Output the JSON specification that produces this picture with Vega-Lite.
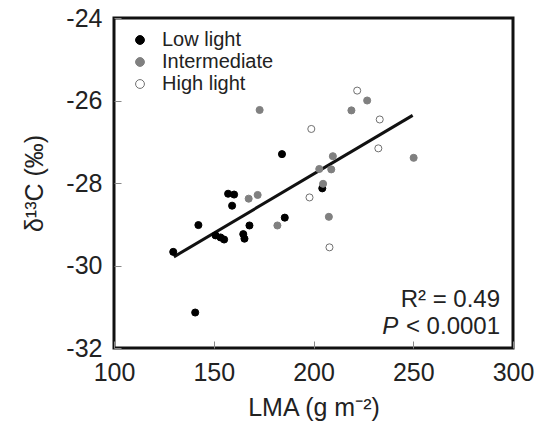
{
  "$schema": "https://vega.github.io/schema/vega-lite/v6.json",
  "width": 399,
  "height": 330,
  "autosize": {"type": "none"},
  "padding": {"left": 114, "top": 18, "right": 33, "bottom": 91},
  "background": "white",
  "config": {
    "view": {"stroke": "#111111", "strokeWidth": 3},
    "font": "Liberation Sans",
    "axis": {
      "domain": false,
      "grid": false,
      "tickSize": -7,
      "tickColor": "#888888",
      "tickWidth": 1,
      "labelFontSize": 25,
      "labelColor": "#222222",
      "labelPadding": 19,
      "labelFlush": false,
      "titleFontSize": 25,
      "titleFontWeight": "normal",
      "titleColor": "#222222"
    },
    "legend": {
      "orient": "none",
      "legendX": 16,
      "legendY": 12,
      "padding": 0,
      "labelFontSize": 20,
      "labelColor": "#222222",
      "symbolSize": 78,
      "symbolStrokeWidth": 1,
      "labelOffset": 12,
      "rowPadding": 2
    }
  },
  "layer": [
    {
      "data": {"values": [
        {"lma": 130, "d13C": -29.79},
        {"lma": 249.7, "d13C": -26.36}
      ]},
      "mark": {"type": "line", "color": "#111111", "strokeWidth": 3},
      "encoding": {
        "x": {"field": "lma", "type": "quantitative", "title": "LMA (g m⁻²)"},
        "y": {"field": "d13C", "type": "quantitative", "title": "δ¹³C (‰)"}
      }
    },
    {
      "data": {"values": [
        {"light": "Low light", "lma": 184.2, "d13C": -27.30},
        {"light": "Low light", "lma": 157.2, "d13C": -28.26},
        {"light": "Low light", "lma": 160.2, "d13C": -28.28},
        {"light": "Low light", "lma": 159.2, "d13C": -28.55},
        {"light": "Low light", "lma": 142.3, "d13C": -29.02},
        {"light": "Low light", "lma": 129.7, "d13C": -29.67},
        {"light": "Low light", "lma": 150.9, "d13C": -29.27},
        {"light": "Low light", "lma": 153.4, "d13C": -29.32},
        {"light": "Low light", "lma": 155.2, "d13C": -29.37},
        {"light": "Low light", "lma": 167.9, "d13C": -29.03},
        {"light": "Low light", "lma": 164.8, "d13C": -29.24},
        {"light": "Low light", "lma": 165.4, "d13C": -29.35},
        {"light": "Low light", "lma": 185.6, "d13C": -28.84},
        {"light": "Low light", "lma": 140.7, "d13C": -31.14},
        {"light": "Low light", "lma": 204.4, "d13C": -28.13},
        {"light": "Intermediate", "lma": 173.0, "d13C": -26.23},
        {"light": "Intermediate", "lma": 167.5, "d13C": -28.38},
        {"light": "Intermediate", "lma": 172.0, "d13C": -28.29},
        {"light": "Intermediate", "lma": 181.9, "d13C": -29.03},
        {"light": "Intermediate", "lma": 202.9, "d13C": -27.66},
        {"light": "Intermediate", "lma": 208.9, "d13C": -27.67},
        {"light": "Intermediate", "lma": 209.7, "d13C": -27.35},
        {"light": "Intermediate", "lma": 204.8, "d13C": -28.02},
        {"light": "Intermediate", "lma": 207.7, "d13C": -28.82},
        {"light": "Intermediate", "lma": 219.0, "d13C": -26.24},
        {"light": "Intermediate", "lma": 226.9, "d13C": -26.00},
        {"light": "Intermediate", "lma": 250.2, "d13C": -27.39},
        {"light": "High light", "lma": 198.9, "d13C": -26.69},
        {"light": "High light", "lma": 198.0, "d13C": -28.35},
        {"light": "High light", "lma": 208.0, "d13C": -29.56},
        {"light": "High light", "lma": 221.9, "d13C": -25.76},
        {"light": "High light", "lma": 233.2, "d13C": -26.46},
        {"light": "High light", "lma": 232.5, "d13C": -27.16}
      ]},
      "mark": {"type": "circle", "size": 50, "opacity": 1, "strokeWidth": 1},
      "encoding": {
        "x": {
          "field": "lma", "type": "quantitative",
          "scale": {"domain": [100, 300], "nice": false, "zero": false},
          "axis": {"values": [100, 150, 200, 250, 300], "titlePadding": 10},
          "title": "LMA (g m⁻²)"
        },
        "y": {
          "field": "d13C", "type": "quantitative",
          "scale": {"domain": [-32, -24], "nice": false, "zero": false},
          "axis": {"values": [-32, -30, -28, -26, -24], "labelExpr": "toString(datum.value)", "titlePadding": 18},
          "title": "δ¹³C (‰)"
        },
        "fill": {
          "field": "light", "type": "nominal",
          "scale": {"domain": ["Low light", "Intermediate", "High light"], "range": ["#000000", "#808080", "#ffffff"]},
          "legend": {"title": null}
        },
        "stroke": {
          "field": "light", "type": "nominal",
          "scale": {"domain": ["Low light", "Intermediate", "High light"], "range": ["#000000", "#808080", "#707070"]},
          "legend": {"title": null}
        }
      }
    },
    {
      "data": {"values": [{}]},
      "mark": {"type": "text", "align": "right", "baseline": "middle", "fontSize": 24, "color": "#222222", "text": "R² = 0.49"},
      "encoding": {
        "x": {"datum": 293.5, "type": "quantitative"},
        "y": {"datum": -30.83, "type": "quantitative"}
      }
    },
    {
      "data": {"values": [{}]},
      "mark": {"type": "text", "align": "right", "baseline": "middle", "fontSize": 24, "color": "#222222", "text": "< 0.0001"},
      "encoding": {
        "x": {"datum": 293.5, "type": "quantitative"},
        "y": {"datum": -31.48, "type": "quantitative"}
      }
    },
    {
      "data": {"values": [{}]},
      "mark": {"type": "text", "align": "right", "baseline": "middle", "fontSize": 24, "fontStyle": "italic", "color": "#222222", "text": "P"},
      "encoding": {
        "x": {"datum": 242.5, "type": "quantitative"},
        "y": {"datum": -31.48, "type": "quantitative"}
      }
    }
  ]
}
